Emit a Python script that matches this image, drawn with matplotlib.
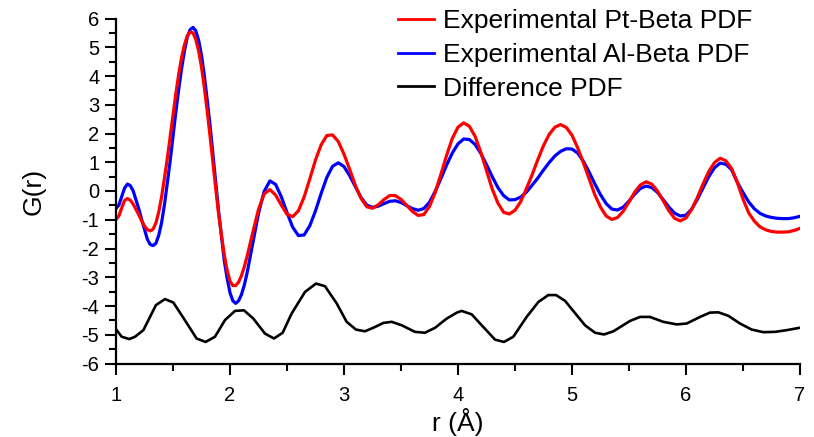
import numpy as np
import matplotlib
matplotlib.use('Agg')
import matplotlib.pyplot as plt
from matplotlib.ticker import MultipleLocator

plt.rcParams['font.family'] = ['Liberation Sans', 'DejaVu Sans']
plt.rcParams['axes.unicode_minus'] = False

# r grid (0.05 A step) for the two measured PDFs
r = np.linspace(1.0, 7.0, 121)

# Experimental Pt-Beta PDF
g_pt = [-0.99, -0.59, -0.26, -0.45, -0.83, -1.22, -1.39, -1.11, -0.20, 1.13,
        2.66, 4.06, 5.08, 5.53, 5.27, 4.31, 2.78, 0.99, -0.80, -2.23,
        -3.13, -3.29, -2.95, -2.27, -1.44, -0.64, -0.10, 0.05, -0.14, -0.49,
        -0.81, -0.89, -0.69, -0.21, 0.42, 1.08, 1.61, 1.93, 1.95, 1.72,
        1.28, 0.75, 0.19, -0.26, -0.55, -0.60, -0.48, -0.30, -0.16, -0.16,
        -0.29, -0.50, -0.71, -0.85, -0.82, -0.54, -0.05, 0.58, 1.24, 1.83,
        2.22, 2.37, 2.25, 1.90, 1.35, 0.71, 0.07, -0.42, -0.74, -0.80,
        -0.67, -0.37, 0.08, 0.56, 1.09, 1.58, 1.97, 2.22, 2.31, 2.21,
        1.94, 1.50, 0.98, 0.42, -0.13, -0.56, -0.87, -0.99, -0.92, -0.70,
        -0.38, -0.04, 0.21, 0.32, 0.24, 0.00, -0.34, -0.69, -0.95, -1.04,
        -0.94, -0.64, -0.22, 0.25, 0.68, 0.99, 1.14, 1.05, 0.78, 0.30,
        -0.28, -0.76, -1.05, -1.25, -1.35, -1.41, -1.43, -1.43, -1.42, -1.37,
        -1.30]

# Experimental Al-Beta PDF
g_al = [-0.61, -0.20, 0.24, 0.01, -0.62, -1.34, -1.86, -1.82, -1.10, 0.29,
        1.90, 3.53, 4.86, 5.61, 5.57, 4.72, 3.17, 1.29, -0.70, -2.43,
        -3.54, -3.91, -3.61, -2.85, -1.82, -0.78, -0.01, 0.35, 0.23, -0.20,
        -0.75, -1.26, -1.55, -1.53, -1.21, -0.69, -0.08, 0.48, 0.86, 0.98,
        0.85, 0.53, 0.15, -0.23, -0.49, -0.57, -0.53, -0.44, -0.36, -0.34,
        -0.40, -0.51, -0.61, -0.67, -0.61, -0.39, -0.01, 0.43, 0.90, 1.32,
        1.64, 1.81, 1.79, 1.62, 1.31, 0.92, 0.50, 0.12, -0.16, -0.31,
        -0.30, -0.21, -0.04, 0.20, 0.45, 0.73, 0.99, 1.22, 1.38, 1.47,
        1.46, 1.32, 1.03, 0.66, 0.25, -0.13, -0.44, -0.63, -0.66, -0.56,
        -0.35, -0.11, 0.09, 0.17, 0.12, -0.05, -0.30, -0.56, -0.77, -0.87,
        -0.84, -0.63, -0.29, 0.11, 0.50, 0.81, 0.97, 0.93, 0.74, 0.30,
        -0.05, -0.38, -0.62, -0.78, -0.87, -0.92, -0.95, -0.96, -0.96, -0.93,
        -0.88]

# extra readings between grid points over the sharp first peaks
r_fine = [1.025, 1.075, 1.125, 1.225, 1.275, 1.325, 1.375, 1.425, 1.475, 1.525,
          1.575, 1.625, 1.675, 1.725, 1.775, 1.825, 1.875, 1.925, 1.975, 2.025,
          2.075, 2.125]
g_pt_fine = [-0.87, -0.33, -0.32, -1.04, -1.34, -1.33, -0.73, 0.45, 1.89, 3.39,
             4.64, 5.40, 5.50, 4.87, 3.59, 1.91, 0.08, -1.54, -2.76, -3.29,
             -3.17, -2.64]
g_al_fine = [-0.49, 0.10, 0.19, -0.99, -1.68, -1.90, -1.54, -0.48, 1.04, 2.75,
             4.25, 5.34, 5.69, 5.24, 4.01, 2.29, 0.29, -1.56, -3.04, -3.82,
             -3.82, -3.28]

# Difference PDF (offset), coarser sampling
r_diff = [1.006, 1.05, 1.117, 1.167, 1.24, 1.35, 1.43, 1.503, 1.576, 1.707,
          1.786, 1.868, 1.956, 2.044, 2.123, 2.205, 2.307, 2.386, 2.462, 2.541,
          2.658, 2.754, 2.833, 2.936, 3.023, 3.105, 3.184, 3.272, 3.345, 3.418,
          3.506, 3.623, 3.71, 3.798, 3.90, 3.99, 4.032, 4.12, 4.222, 4.325,
          4.403, 4.485, 4.602, 4.705, 4.792, 4.86, 4.939, 5.114, 5.202, 5.281,
          5.363, 5.509, 5.597, 5.684, 5.80, 5.918, 6.006, 6.123, 6.21, 6.284,
          6.371, 6.474, 6.576, 6.679, 6.781, 6.883, 6.994]
g_diff = [-4.84, -5.07, -5.15, -5.07, -4.84, -3.97, -3.76, -3.88, -4.32, -5.13,
          -5.25, -5.07, -4.49, -4.17, -4.15, -4.44, -4.96, -5.13, -4.93, -4.26,
          -3.51, -3.22, -3.31, -3.91, -4.55, -4.82, -4.88, -4.73, -4.59, -4.55,
          -4.67, -4.90, -4.93, -4.76, -4.44, -4.23, -4.17, -4.29, -4.73, -5.17,
          -5.25, -5.07, -4.38, -3.86, -3.62, -3.62, -3.82, -4.67, -4.93, -4.99,
          -4.88, -4.52, -4.38, -4.38, -4.55, -4.64, -4.61, -4.38, -4.23, -4.22,
          -4.34, -4.61, -4.82, -4.91, -4.90, -4.84, -4.76]

# merge the coarse grid with the extra readings
r_all = np.concatenate([r, r_fine])
order = np.argsort(r_all)
r_all = r_all[order]
pt_all = np.concatenate([g_pt, g_pt_fine])[order]
al_all = np.concatenate([g_al, g_al_fine])[order]

fig = plt.figure(figsize=(8.14, 4.37), dpi=100)
ax = fig.add_axes([116 / 814, 1 - 363.5 / 437, 684 / 814, 345 / 437])

line_al, = ax.plot(r_all, al_all, color='#0000ff', lw=2.3,
                   solid_joinstyle='round', label='Experimental Al-Beta PDF')
line_pt, = ax.plot(r_all, pt_all, color='#ff0000', lw=2.3,
                   solid_joinstyle='round', label='Experimental Pt-Beta PDF')
line_df, = ax.plot(r_diff, g_diff, color='black', lw=1.9,
                   solid_joinstyle='round', label='Difference PDF')

ax.set_xlim(1, 7)
ax.set_ylim(-6, 6)
ax.xaxis.set_major_locator(MultipleLocator(1))
ax.xaxis.set_minor_locator(MultipleLocator(0.5))
ax.yaxis.set_major_locator(MultipleLocator(1))
ax.yaxis.set_minor_locator(MultipleLocator(0.5))

for side in ['top', 'right']:
    ax.spines[side].set_visible(False)
for side in ['left', 'bottom']:
    ax.spines[side].set_linewidth(1.6)

ax.tick_params(which='major', direction='out', length=8, width=1.5,
               labelsize=14.5, pad=4)
ax.tick_params(which='minor', direction='out', length=5, width=1.5)
ax.tick_params(axis='x', which='major', pad=8)

ax.set_xlabel('r (Å)', fontsize=19, labelpad=2)
ax.set_ylabel('G(r)', fontsize=19, labelpad=26)

leg = ax.legend(handles=[line_pt, line_al, line_df], loc='upper left',
                bbox_to_anchor=(398 / 814, 1 - 9 / 437),
                bbox_transform=fig.transFigure, frameon=False, fontsize=19,
                handlelength=1.35, handletextpad=0.35, labelspacing=0.37,
                borderpad=0, borderaxespad=0)
for h in leg.get_lines():
    h.set_linewidth(2.0)

fig.savefig('out.png', dpi=100)
